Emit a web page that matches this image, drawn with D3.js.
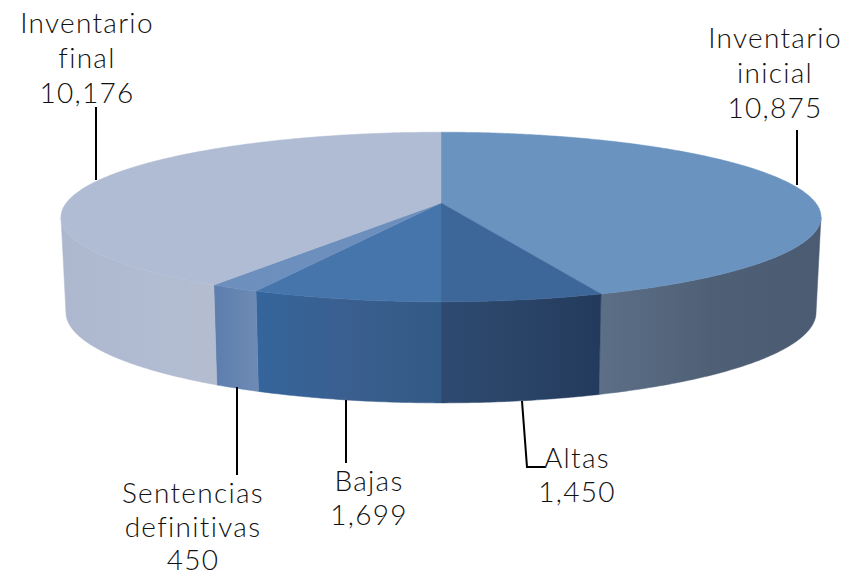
<!DOCTYPE html>
<html>
<head>
<meta charset="utf-8">
<script src="https://cdn.jsdelivr.net/npm/d3@7"></script>
<style>
html, body { margin: 0; padding: 0; background: #fff; }
text { font-family: Lato, "Open Sans", sans-serif; font-size: 28px; font-weight: 300; fill: #111; letter-spacing: 1.3px; text-anchor: middle; }
</style>
</head>
<body>
<svg width="846" height="575"></svg>
<script>
var categories = ["Inventario inicial", "Altas", "Bajas", "Sentencias definitivas", "Inventario final"];
var values = [10875, 1450, 1699, 450, 10176];
var labelLines = [["Inventario", "inicial"], ["Altas"], ["Bajas"], ["Sentencias", "definitivas"], ["Inventario", "final"]];
var topColors = ["#6b93bf", "#3d6699", "#4675ab", "#6d8fbd", "#b0bcd3"];
// colours of the side wall, left to right
var sideColors = [
    ["#5c6f86", "#4f6076", "#4b5b71"],
    ["#2f4a70", "#2a4467", "#233a5c"],
    ["#34659c", "#3a5f8f", "#335a86"],
    ["#5d7eae", "#6485b1", "#6d8ab4"],
    ["#adb8cf", "#b0bbd2", "#b4bdd0"]
];

var svg = d3.select("svg");
var fmt = d3.format(",");

// the pie is a circle seen in perspective, k pulls the near edge towards the viewer
var k = 0.165;
var topRim = { cx: 441, cy: 203, a: 374.8, b: 82.5 };
var bottomRim = { cx: 441, cy: 297.5, a: 369.9, b: 88 };

function project(rim, angle) {
    var x = Math.sin(angle), y = -Math.cos(angle), w = 1 - k * y;
    return [rim.cx + rim.a * x / w, rim.cy + rim.b * y / w];
}

function arcPoints(rim, a0, a1) {
    var n = Math.max(2, Math.ceil(Math.abs(a1 - a0) / 0.01));
    return d3.range(n + 1).map(function (i) {
        return project(rim, a0 + (a1 - a0) * i / n);
    });
}

var line = d3.line();
var pie = d3.pie().sort(null)(values);

// the wall is only visible between the two widest points of the rim
var wallStart = Math.PI - Math.acos(k);
var wallEnd = Math.PI + Math.acos(k);

var defs = svg.append("defs");
pie.forEach(function (d, i) {
    var a0 = Math.max(d.startAngle, wallStart), a1 = Math.min(d.endAngle, wallEnd);
    var x0 = project(topRim, a0)[0], x1 = project(topRim, a1)[0];
    var grad = defs.append("linearGradient")
        .attr("id", "side" + i)
        .attr("gradientUnits", "userSpaceOnUse")
        .attr("x1", Math.min(x0, x1)).attr("x2", Math.max(x0, x1))
        .attr("y1", 0).attr("y2", 0);
    sideColors[i].forEach(function (c, j) {
        grad.append("stop").attr("offset", j / 2).attr("stop-color", c);
    });
});

svg.append("g").attr("class", "sides")
    .selectAll("path")
    .data(pie.filter(function (d) { return d.endAngle > wallStart && d.startAngle < wallEnd; }))
    .enter().append("path")
    .attr("d", function (d) {
        var a0 = Math.max(d.startAngle, wallStart), a1 = Math.min(d.endAngle, wallEnd);
        return line(arcPoints(topRim, a0, a1).concat(arcPoints(bottomRim, a1, a0))) + "Z";
    })
    .attr("fill", function (d) { return "url(#side" + d.index + ")"; })
    .attr("stroke", function (d) { return "url(#side" + d.index + ")"; })
    .attr("stroke-width", 0.5);

svg.append("g").attr("class", "tops")
    .selectAll("path")
    .data(pie)
    .enter().append("path")
    .attr("d", function (d) {
        return line([[topRim.cx, topRim.cy]].concat(arcPoints(topRim, d.startAngle, d.endAngle))) + "Z";
    })
    .attr("fill", function (d) { return topColors[d.index]; })
    .attr("stroke", function (d) { return topColors[d.index]; })
    .attr("stroke-width", 0.5);

// label placement, same order as categories
var labelX = [775, 577, 369, 193, 87];
var labelY = [48, 468, 491, 503, 33];
var labelStep = [35, 34, 34, 33.5, 35];
var leaders = [
    [[797, 185], [797, 130]],
    [[522, 401], [527, 467], [545, 467]],
    [[346, 400], [346, 463]],
    [[237, 387], [237, 475]],
    [[96, 180], [96, 107]]
];

svg.append("g").attr("class", "leaders")
    .selectAll("path")
    .data(leaders)
    .enter().append("path")
    .attr("d", line)
    .attr("fill", "none")
    .attr("stroke", "#000")
    .attr("stroke-width", 2);

var label = svg.append("g").attr("class", "labels")
    .selectAll("text")
    .data(categories)
    .enter().append("text")
    .attr("aria-label", function (d) { return d; });

label.selectAll("tspan")
    .data(function (d, i) {
        return labelLines[i].concat(fmt(values[i])).map(function (t, j) {
            return { t: t, x: labelX[i], y: labelY[i] + j * labelStep[i] };
        });
    })
    .enter().append("tspan")
    .attr("x", function (d) { return d.x; })
    .attr("y", function (d) { return d.y; })
    .text(function (d) { return d.t; });
</script>
</body>
</html>
